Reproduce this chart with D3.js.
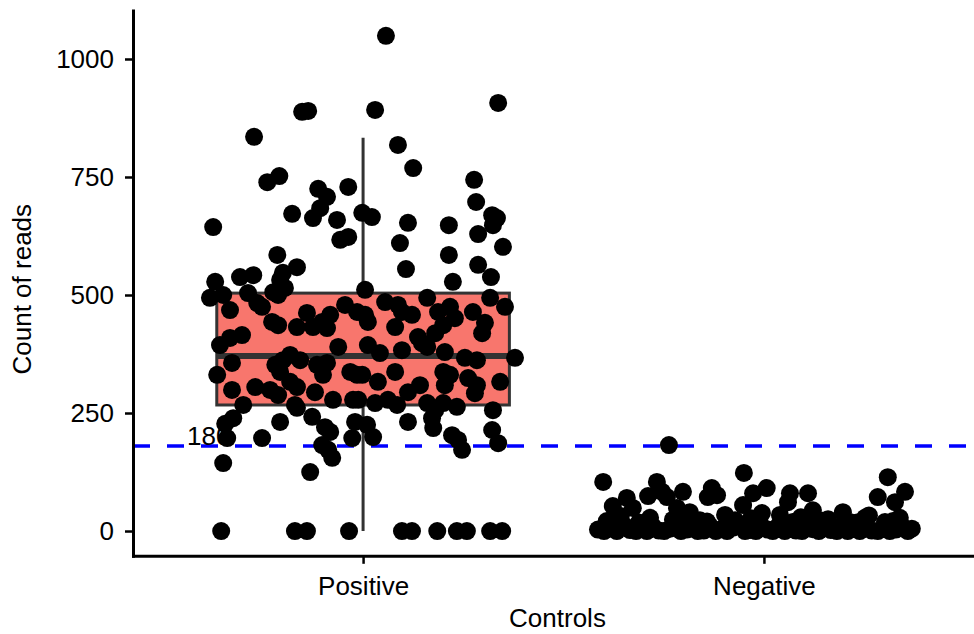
<!DOCTYPE html>
<html>
<head>
<meta charset="utf-8">
<script src="https://cdn.jsdelivr.net/npm/d3@7"></script>
<style>
  html, body { margin: 0; padding: 0; background: #fff; }
  svg text { font-family: "Liberation Sans", Arial, sans-serif; fill: #000; }
</style>
</head>
<body>
<div id="chart"></div>
<script>
// ---------------------------------------------------------------------------
// Data

const categories = ['Positive', 'Negative'];
const yTicks = [0, 250, 500, 750, 1000];
const cutoff = 180;

// jitter offsets (in category units) and read counts
const positiveJitter = [
  0.057, 0.337, -0.152, -0.137, 0.030, -0.272, 0.087, 0.125, -0.239, -0.209,
  0.277, -0.112, -0.037, -0.090, 0.282, -0.107, -0.002, 0.022, -0.125, -0.065,
  -0.177, 0.112, 0.214, 0.322, 0.334, 0.324, -0.374, 0.287, -0.057, -0.037,
  0.092, 0.349, -0.214, 0.214, 0.287, -0.165, 0.107, 0.319, -0.200, -0.307,
  -0.274, -0.369, 0.224, 0.005,
  -0.207, -0.195, -0.382, -0.349, -0.332, -0.287, -0.264, -0.252, -0.224, -0.212,
  -0.227, -0.212, -0.165, -0.140, -0.125, -0.090, -0.082, -0.102, -0.045, -0.015,
  -0.062, -0.357, -0.332, -0.302, -0.327, -0.364, -0.327, -0.269, -0.299, -0.232,
  -0.212, -0.219, -0.200, -0.182, -0.207, -0.157, -0.182, -0.165, -0.170, -0.165,
  -0.115, -0.090, -0.100, -0.120, -0.075, -0.032, -0.015, -0.025, -0.127, -0.207,
  -0.324, -0.344, -0.339, -0.252, -0.095, -0.082, -0.102, -0.087, -0.077, -0.349,
  -0.132, -0.020, -0.027, 0.010, 0.025,
  0.055, 0.087, 0.097, 0.122, 0.160, 0.187, 0.217, 0.200, 0.229, 0.274,
  0.317, 0.354, 0.304, 0.297, 0.005, 0.012, 0.080, 0.137, 0.147, 0.160,
  0.180, 0.012, 0.042, 0.097, 0.204, 0.254, 0.284, 0.379, -0.002, 0.037,
  0.080, 0.142, 0.112, 0.200, 0.217, 0.204, 0.262, 0.284, 0.279, 0.342,
  -0.012, 0.030, 0.062, 0.085, 0.160, 0.180, 0.200, 0.234, 0.324, 0.112,
  0.172, 0.175, 0.222, 0.237, 0.247, 0.322, 0.337,
  -0.354, -0.170, -0.140, -0.035, 0.097, 0.122, 0.185, 0.234, 0.259, 0.317, 0.347
];
const positiveCounts = [
  1049, 907, 888, 890, 892, 835, 818, 769, 739, 752,
  744, 725, 729, 708, 697, 684, 674, 665, 663, 659,
  672, 653, 648, 669, 663, 648, 644, 629, 617, 623,
  610, 602, 585, 585, 564, 559, 555, 538, 547, 538,
  542, 528, 528, 511,
  532, 515, 494, 500, 468, 504, 483, 475, 506, 500,
  443, 436, 432, 462, 432, 430, 458, 443, 479, 464,
  390, 394, 409, 415, 356, 331, 299, 305, 267, 299,
  288, 352, 362, 373, 337, 362, 316, 305, 267, 261,
  352, 356, 331, 294, 278, 337, 331, 278, 242, 231,
  239, 227, 197, 197, 220, 210, 182, 172, 155, 144,
  125, 231, 197, 225, 199,
  485, 479, 464, 458, 494, 464, 475, 436, 451, 464,
  494, 475, 441, 419, 458, 443, 432, 411, 398, 390,
  419, 394, 377, 383, 379, 367, 362, 367, 331, 316,
  337, 309, 294, 337, 331, 309, 324, 309, 292, 316,
  278, 271, 278, 267, 271, 256, 271, 263, 256, 231,
  239, 218, 203, 193, 172, 214, 186,
  0, 0, 0, 0, 0, 0, 0, 0, 0, 0, 0
];

const negativeJitter = [
  -0.237, -0.050, 0.309, -0.401, -0.267, -0.377, -0.342, -0.289, -0.254, -0.242,
  -0.202, -0.130, -0.117, -0.140, -0.027, 0.007, -0.052, 0.065, 0.110, 0.060,
  0.284, 0.352, 0.327, 0.197, 0.252, 0.339, -0.005, 0.040, 0.122, -0.217,
  -0.327, -0.185, -0.097, -0.072, -0.160, -0.284, -0.372, 0.140, 0.214, 0.302,
  -0.414, -0.399, -0.382, -0.367, -0.349, -0.334, -0.319, -0.307, -0.292, -0.277,
  -0.262, -0.249, -0.234, -0.219, -0.207, -0.192, -0.177, -0.165, -0.150, -0.135,
  -0.120, -0.107, -0.092, -0.077, -0.062, -0.047, -0.035, -0.020, -0.005, 0.010,
  0.022, 0.037, 0.052, 0.065, 0.080, 0.095, 0.110, 0.122, 0.137, 0.152,
  0.167, 0.182, 0.197, 0.209, 0.224, 0.239, 0.254, 0.269, 0.284, 0.299,
  0.314, 0.329, 0.344, 0.359, 0.369,
  -0.392, -0.312, -0.227, -0.142, -0.085, -0.012, 0.072, 0.160, 0.232, 0.322,
  -0.357, -0.197, -0.032, 0.092, 0.262
];
const negativeCounts = [
  182, 123, 114, 104, 104, 53, 70, 74, 83, 72,
  83, 91, 76, 72, 80, 91, 55, 80, 80, 61,
  72, 83, 61, 40, 28, 28, 38, 34, 44, 49,
  49, 40, 34, 23, 23, 28, 23, 23, 19, 19,
  3, 0, 8, 0, 12, 2, 0, 6, 0, 10,
  1, 0, 5, 14, 0, 3, 9, 0, 1, 11,
  0, 4, 0, 7, 15, 0, 2, 0, 9, 3,
  0, 12, 0, 6, 1, 0, 10, 4, 0, 8,
  2, 0, 13, 0, 5, 0, 9, 1, 0, 6,
  0, 3, 11, 0, 5,
  21, 18, 24, 20, 17, 22, 19, 25, 18, 21,
  32, 30, 27, 29, 33
];

// box statistics per category
const boxLower = [0, 0];
const boxQ1 = [267, 0];
const boxMedian = [371, 2];
const boxQ3 = [504, 8];
const boxUpper = [833, 20];

// ---------------------------------------------------------------------------
// Layout

const width = 974;
const height = 634;
const plotLeft = 133;
const plotTop = 10.6;
const plotBottom = 555.8;
const boxWidth = 0.73;
const radius = 9;

const svg = d3.select('#chart')
  .append('svg')
  .attr('width', width)
  .attr('height', height);

const x = d3.scaleLinear()
  .domain([0.426, 2.574])
  .range([plotLeft, 994]);

const y = d3.scaleLinear()
  .domain([-52.5, 1102.5])
  .range([plotBottom, plotTop]);

// ---------------------------------------------------------------------------
// Boxes

const boxes = categories.map((name, i) => ({
  pos: i + 1,
  lower: boxLower[i],
  q1: boxQ1[i],
  median: boxMedian[i],
  q3: boxQ3[i],
  upper: boxUpper[i]
}));

const boxG = svg.append('g').attr('class', 'boxes');

boxG.selectAll('line.whisker')
  .data(boxes)
  .enter()
  .append('line')
  .attr('class', 'whisker')
  .attr('x1', d => x(d.pos))
  .attr('x2', d => x(d.pos))
  .attr('y1', d => y(d.lower))
  .attr('y2', d => y(d.upper))
  .attr('stroke', '#333')
  .attr('stroke-width', 3);

boxG.selectAll('rect')
  .data(boxes)
  .enter()
  .append('rect')
  .attr('x', d => x(d.pos - boxWidth / 2))
  .attr('width', d => x(d.pos + boxWidth / 2) - x(d.pos - boxWidth / 2))
  .attr('y', d => y(d.q3))
  .attr('height', d => y(d.q1) - y(d.q3))
  .attr('fill', '#F8766D')
  .attr('stroke', '#333')
  .attr('stroke-width', 3);

boxG.selectAll('line.median')
  .data(boxes)
  .enter()
  .append('line')
  .attr('class', 'median')
  .attr('x1', d => x(d.pos - boxWidth / 2))
  .attr('x2', d => x(d.pos + boxWidth / 2))
  .attr('y1', d => y(d.median))
  .attr('y2', d => y(d.median))
  .attr('stroke', '#333')
  .attr('stroke-width', 6);

// ---------------------------------------------------------------------------
// Cutoff line and label

svg.append('line')
  .attr('x1', plotLeft)
  .attr('x2', width)
  .attr('y1', y(cutoff))
  .attr('y2', y(cutoff))
  .attr('stroke', '#0000FF')
  .attr('stroke-width', 3.5)
  .attr('stroke-dasharray', '17 17');

svg.append('text')
  .attr('x', 187)
  .attr('y', y(cutoff) - 1)
  .attr('font-size', 26)
  .attr('fill', '#222')
  .text(cutoff);

// ---------------------------------------------------------------------------
// Points

const points = [];
positiveCounts.forEach((v, i) => points.push({ pos: 1 + positiveJitter[i], value: v }));
negativeCounts.forEach((v, i) => points.push({ pos: 2 + negativeJitter[i], value: v }));

svg.append('g')
  .attr('class', 'points')
  .selectAll('circle')
  .data(points)
  .enter()
  .append('circle')
  .attr('cx', d => x(d.pos))
  .attr('cy', d => y(d.value))
  .attr('r', radius)
  .attr('fill', '#000');

// ---------------------------------------------------------------------------
// Axes

const yAxis = svg.append('g')
  .attr('transform', `translate(${plotLeft},0)`)
  .call(d3.axisLeft(y)
    .tickValues(yTicks)
    .tickFormat(d3.format('d'))
    .tickSize(8)
    .tickSizeOuter(0)
    .tickPadding(11));

const xAxis = svg.append('g')
  .attr('transform', `translate(0,${plotBottom})`)
  .call(d3.axisBottom(x)
    .tickValues([1, 2])
    .tickFormat(d => categories[d - 1])
    .tickSize(8)
    .tickSizeOuter(0)
    .tickPadding(13));

[yAxis, xAxis].forEach(g => {
  g.select('.domain').attr('stroke', '#000').attr('stroke-width', 3).attr('stroke-linecap', 'square');
  g.selectAll('.tick line').attr('stroke', '#000').attr('stroke-width', 2.5);
  g.selectAll('.tick text').attr('font-size', 26).attr('fill', '#000')
    .style('font-family', '"Liberation Sans", Arial, sans-serif');
});

svg.append('text')
  .attr('x', (plotLeft + width) / 2 + 4)
  .attr('y', 627)
  .attr('text-anchor', 'middle')
  .attr('font-size', 26)
  .text('Controls');

svg.append('text')
  .attr('transform', `translate(31,${(plotTop + plotBottom) / 2 + 6}) rotate(-90)`)
  .attr('text-anchor', 'middle')
  .attr('font-size', 26)
  .text('Count of reads');
</script>
</body>
</html>
